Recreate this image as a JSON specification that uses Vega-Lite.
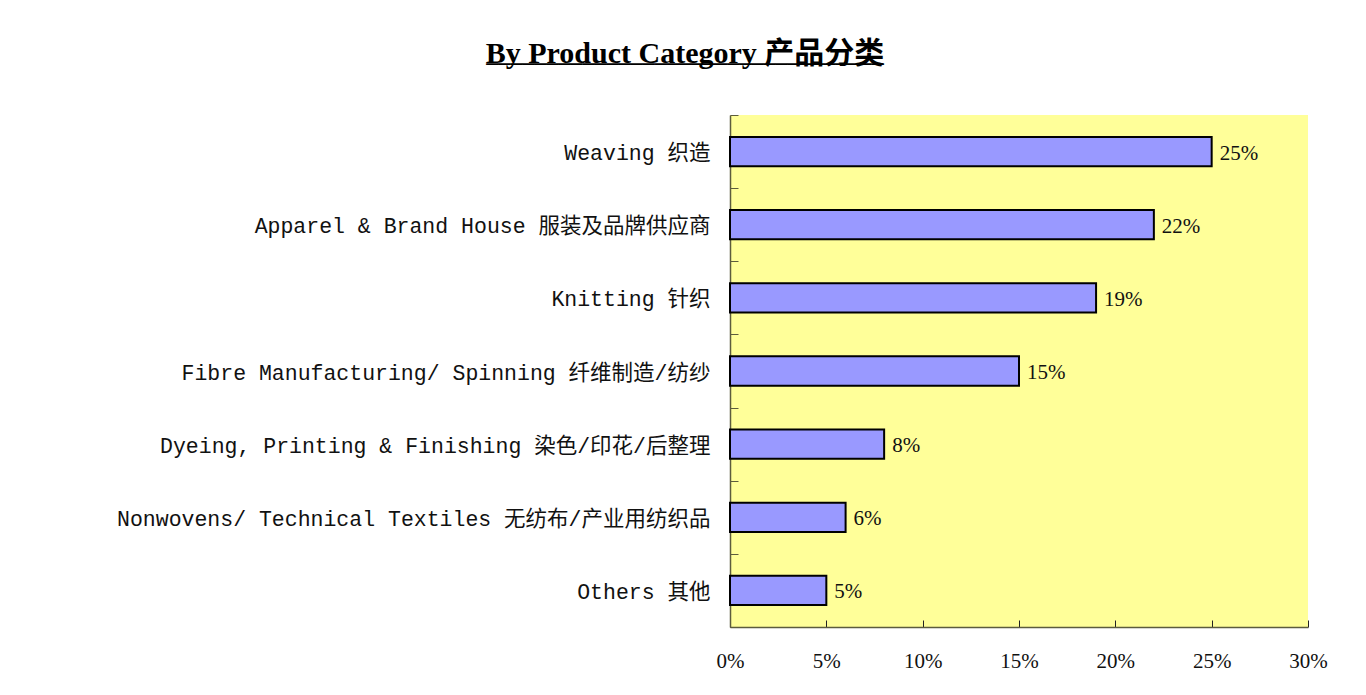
{
  "$schema": "https://vega.github.io/schema/vega-lite/v6.json",
  "width": 578,
  "height": 512,
  "autosize": {"type": "none"},
  "padding": {"left": 730, "top": 115, "right": 58, "bottom": 68},
  "background": "white",
  "title": {
    "text": "By Product Category 产品分类",
    "subtitle": "─────────────────────────────────",
    "anchor": "middle",
    "frame": "group",
    "dx": -334,
    "offset": 29,
    "font": "Liberation Serif, Noto Sans CJK SC",
    "fontSize": 30,
    "fontWeight": "bold",
    "color": "#000000",
    "subtitleFont": "DejaVu Sans Mono",
    "subtitleFontSize": 20,
    "subtitleColor": "#000000",
    "subtitlePadding": -14
  },
  "data": {
    "values": [
      {"category": "Weaving 织造", "share": 0.25},
      {"category": "Apparel & Brand House 服装及品牌供应商", "share": 0.22},
      {"category": "Knitting 针织", "share": 0.19},
      {"category": "Fibre Manufacturing/ Spinning 纤维制造/纺纱", "share": 0.15},
      {"category": "Dyeing, Printing & Finishing 染色/印花/后整理", "share": 0.08},
      {"category": "Nonwovens/ Technical Textiles 无纺布/产业用纺织品", "share": 0.06},
      {"category": "Others 其他", "share": 0.05}
    ]
  },
  "encoding": {
    "y": {
      "field": "category",
      "type": "nominal",
      "sort": null,
      "scale": {"paddingInner": 0, "paddingOuter": 0},
      "axis": {
        "title": null,
        "tickBand": "extent",
        "tickSize": -8,
        "tickColor": "#5c5c3d",
        "domainColor": "#5c5c3d",
        "domainWidth": 1.5,
        "labelFont": "Liberation Mono, Noto Sans CJK SC",
        "labelFontSize": 21.5,
        "labelColor": "#111111",
        "labelPadding": 28,
        "labelLimit": 0,
        "labelOffset": 2
      }
    },
    "x": {
      "field": "share",
      "type": "quantitative",
      "scale": {"domain": [0, 0.3], "nice": false},
      "axis": {
        "title": null,
        "values": [0, 0.05, 0.1, 0.15, 0.2, 0.25, 0.3],
        "format": ".0%",
        "grid": false,
        "tickSize": -7,
        "tickColor": "#222222",
        "domainColor": "#5c5c3d",
        "domainWidth": 1.5,
        "labelFont": "Liberation Serif",
        "labelFontSize": 21,
        "labelColor": "#111111",
        "labelPadding": 41,
        "labelBaseline": "middle",
        "labelFlush": false
      }
    }
  },
  "layer": [
    {
      "mark": {"type": "bar", "height": {"band": 0.4}, "fill": "#9999FF", "stroke": "#000000", "strokeWidth": 2}
    },
    {
      "mark": {"type": "text", "align": "left", "baseline": "middle", "dx": 8, "dy": 2, "font": "Liberation Serif", "fontSize": 21, "color": "#111111"},
      "encoding": {"text": {"field": "share", "format": ".0%"}}
    }
  ],
  "config": {"view": {"fill": "#FFFF99", "stroke": null}}
}
